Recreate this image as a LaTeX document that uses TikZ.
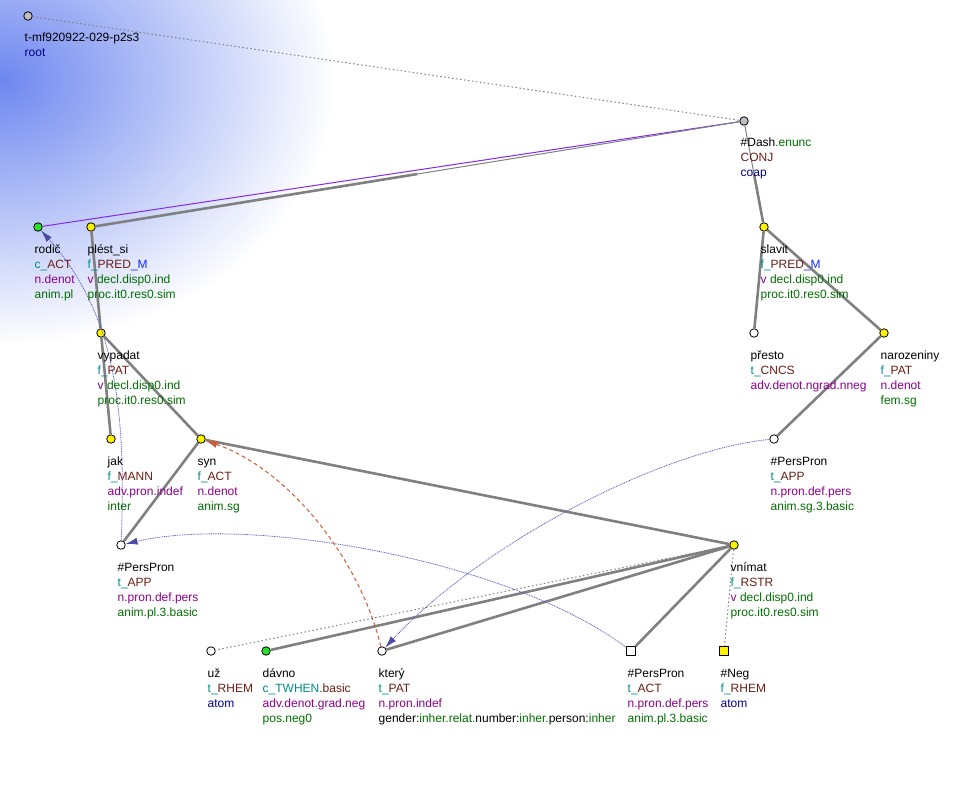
\documentclass[tikz,border=0pt]{standalone}
\usepackage{fontspec}
\setmainfont{Liberation Sans}
\usetikzlibrary{calc,arrows.meta}

\definecolor{tfa}{RGB}{0,139,139}
\definecolor{func}{RGB}{105,30,20}
\definecolor{subf}{RGB}{20,40,255}
\definecolor{sem}{RGB}{139,0,139}
\definecolor{gram}{RGB}{0,110,0}
\definecolor{ntype}{RGB}{0,0,139}
\definecolor{edgegray}{RGB}{128,128,128}
\definecolor{corefblue}{RGB}{95,95,200}
\definecolor{tipblue}{RGB}{75,75,165}
\definecolor{textref}{RGB}{210,90,50}
\definecolor{coapviolet}{RGB}{130,40,240}
\definecolor{nodelime}{RGB}{40,225,40}
\definecolor{nodegray}{RGB}{192,192,192}
\definecolor{shadeblue}{RGB}{110,135,240}

\newcommand{\lbltext}[1]{\begin{tabular}[t]{@{}l@{}}#1\end{tabular}}

\tikzset{
  tnode/.style={circle, draw=black, line width=0.8pt, inner sep=0pt, minimum size=8.5pt, fill=white},
  ynode/.style={tnode, fill=yellow},
  gnode/.style={tnode, fill=nodelime},
  rnode/.style={tnode, fill=nodegray},
  qnode/.style={rectangle, draw=black, line width=0.8pt, inner sep=0pt, minimum size=8.5pt, fill=white},
  lbl/.style={anchor=base west, inner sep=0pt, font=\fontsize{12}{15}\selectfont},
  thickedge/.style={draw=edgegray, line width=2.6pt},
  thinedge/.style={draw=edgegray, line width=1pt},
  dotedge/.style={draw=edgegray, line width=1pt, dash pattern=on 1.5pt off 2.5pt},
  coref/.style={draw=corefblue, line width=0.8pt, dash pattern=on 1pt off 0.8pt,
    -{Latex[length=12pt,width=7pt,color=tipblue]}},
  textcoref/.style={draw=textref, line width=1pt, dash pattern=on 4pt off 3pt,
    -{Latex[length=12pt,width=7pt]}}
}

\begin{document}
\begin{tikzpicture}[x=1pt, y=-1pt]
\useasboundingbox (0,0) rectangle (966,805);

% shaded corner
\begin{scope}
  \clip (0,0) rectangle (345,350);
  \shade[inner color=shadeblue, outer color=white] (0,80) ellipse (335 and 265);
\end{scope}

% tree nodes
\node[rnode] (root) at (28,16) {};
\node[rnode] (dash) at (744,121) {};
\node[gnode] (rodic) at (38,227) {};
\node[ynode] (plest) at (91,227) {};
\node[ynode] (slavit) at (764,227) {};
\node[ynode] (vypadat) at (101,333) {};
\node[tnode] (presto) at (754,333) {};
\node[ynode] (narozeniny) at (884,333) {};
\node[ynode] (jak) at (111,439) {};
\node[ynode] (syn) at (201,439) {};
\node[tnode] (ppA) at (774,439) {};
\node[tnode] (ppB) at (121,545) {};
\node[ynode] (vnimat) at (734,545) {};
\node[tnode] (uz) at (211,651) {};
\node[gnode] (davno) at (266,651) {};
\node[tnode] (ktery) at (382,651) {};
\node[qnode] (ppC) at (631,651) {};
\node[qnode, fill=yellow] (neg) at (724,651) {};

% edges
\draw[dotedge] (root) -- (dash);
\draw[draw=coapviolet, line width=1pt] (dash) -- (rodic);
\draw[thinedge] (dash) -- ($(dash)!.5!(plest)$);
\draw[thickedge] ($(dash)!.5!(plest)$) -- (plest);
\draw[thinedge] (dash) -- ($(dash)!.5!(slavit)$);
\draw[thickedge] ($(dash)!.5!(slavit)$) -- (slavit);
\draw[thickedge] (plest) -- (vypadat);
\draw[thickedge] (vypadat) -- (jak);
\draw[thickedge] (vypadat) -- (syn);
\draw[thickedge] (syn) -- (ppB);
\draw[thickedge] (syn) -- (vnimat);
\draw[thickedge] (slavit) -- (presto);
\draw[thickedge] (slavit) -- (narozeniny);
\draw[thickedge] (narozeniny) -- (ppA);
\draw[dotedge] (vnimat) -- (uz);
\draw[thickedge] (vnimat) -- (davno);
\draw[thickedge] (vnimat) -- (ktery);
\draw[thickedge] (vnimat) -- (ppC);
\draw[dotedge] (vnimat) -- (neg);

% coreference
\draw[coref] (ppB) .. controls (127,400) and (112,310) .. (rodic);
\draw[coref] (ppC) .. controls (510,560) and (250,515) .. (ppB);
\draw[coref] (ppA) .. controls (660,450) and (480,545) .. (ktery);
\draw[textcoref] (ktery) .. controls (360,560) and (290,470) .. (syn);

% labels
\node[lbl] (rootL) at ([shift={(-3.5,26)}]root.center) {\lbltext{t-mf920922-029-p2s3\\\textcolor{ntype}{root}}};
\node[lbl] (dashL) at ([shift={(-3.5,26)}]dash.center) {\lbltext{\#Dash\textcolor{gram}{.enunc}\\\textcolor{func}{CONJ}\\\textcolor{ntype}{coap}}};
\node[lbl] (rodicL) at ([shift={(-3.5,26)}]rodic.center) {\lbltext{rodič\\\textcolor{tfa}{c\_}\textcolor{func}{ACT}\\\textcolor{sem}{n.denot}\\\textcolor{gram}{anim.pl}}};
\node[lbl] (plestL) at ([shift={(-3.5,26)}]plest.center) {\lbltext{plést\_si\\\textcolor{tfa}{f\_}\textcolor{func}{PRED}\textcolor{subf}{\_M}\\\textcolor{sem}{v} \textcolor{gram}{decl.disp0.ind}\\\textcolor{gram}{proc.it0.res0.sim}}};
\node[lbl] (slavitL) at ([shift={(-3.5,26)}]slavit.center) {\lbltext{slavit\\\textcolor{tfa}{f\_}\textcolor{func}{PRED}\textcolor{subf}{\_M}\\\textcolor{sem}{v} \textcolor{gram}{decl.disp0.ind}\\\textcolor{gram}{proc.it0.res0.sim}}};
\node[lbl] (vypadatL) at ([shift={(-3.5,26)}]vypadat.center) {\lbltext{vypadat\\\textcolor{tfa}{f\_}\textcolor{func}{PAT}\\\textcolor{sem}{v} \textcolor{gram}{decl.disp0.ind}\\\textcolor{gram}{proc.it0.res0.sim}}};
\node[lbl] (prestoL) at ([shift={(-3.5,26)}]presto.center) {\lbltext{přesto\\\textcolor{tfa}{t\_}\textcolor{func}{CNCS}\\\textcolor{sem}{adv.denot.ngrad.nneg}}};
\node[lbl] (narozeninyL) at ([shift={(-3.5,26)}]narozeniny.center) {\lbltext{narozeniny\\\textcolor{tfa}{f\_}\textcolor{func}{PAT}\\\textcolor{sem}{n.denot}\\\textcolor{gram}{fem.sg}}};
\node[lbl] (jakL) at ([shift={(-3.5,26)}]jak.center) {\lbltext{jak\\\textcolor{tfa}{f\_}\textcolor{func}{MANN}\\\textcolor{sem}{adv.pron.indef}\\\textcolor{gram}{inter}}};
\node[lbl] (synL) at ([shift={(-3.5,26)}]syn.center) {\lbltext{syn\\\textcolor{tfa}{f\_}\textcolor{func}{ACT}\\\textcolor{sem}{n.denot}\\\textcolor{gram}{anim.sg}}};
\node[lbl] (ppAL) at ([shift={(-3.5,26)}]ppA.center) {\lbltext{\#PersPron\\\textcolor{tfa}{t\_}\textcolor{func}{APP}\\\textcolor{sem}{n.pron.def.pers}\\\textcolor{gram}{anim.sg.3.basic}}};
\node[lbl] (ppBL) at ([shift={(-3.5,26)}]ppB.center) {\lbltext{\#PersPron\\\textcolor{tfa}{t\_}\textcolor{func}{APP}\\\textcolor{sem}{n.pron.def.pers}\\\textcolor{gram}{anim.pl.3.basic}}};
\node[lbl] (vnimatL) at ([shift={(-3.5,26)}]vnimat.center) {\lbltext{vnímat\\\textcolor{tfa}{f\_}\textcolor{func}{RSTR}\\\textcolor{sem}{v} \textcolor{gram}{decl.disp0.ind}\\\textcolor{gram}{proc.it0.res0.sim}}};
\node[lbl] (uzL) at ([shift={(-3.5,26)}]uz.center) {\lbltext{už\\\textcolor{tfa}{t\_}\textcolor{func}{RHEM}\\\textcolor{ntype}{atom}}};
\node[lbl] (davnoL) at ([shift={(-3.5,26)}]davno.center) {\lbltext{dávno\\\textcolor{tfa}{c\_TWHEN}\textcolor{func}{.basic}\\\textcolor{sem}{adv.denot.grad.neg}\\\textcolor{gram}{pos.neg0}}};
\node[lbl] (kteryL) at ([shift={(-3.5,26)}]ktery.center) {\lbltext{který\\\textcolor{tfa}{t\_}\textcolor{func}{PAT}\\\textcolor{sem}{n.pron.indef}\\gender:\textcolor{gram}{inher.relat.}number:\textcolor{gram}{inher.}person:\textcolor{gram}{inher}}};
\node[lbl] (ppCL) at ([shift={(-3.5,26)}]ppC.center) {\lbltext{\#PersPron\\\textcolor{tfa}{t\_}\textcolor{func}{ACT}\\\textcolor{sem}{n.pron.def.pers}\\\textcolor{gram}{anim.pl.3.basic}}};
\node[lbl] (negL) at ([shift={(-3.5,26)}]neg.center) {\lbltext{\#Neg\\\textcolor{tfa}{f\_}\textcolor{func}{RHEM}\\\textcolor{ntype}{atom}}};
\end{tikzpicture}
\end{document}
